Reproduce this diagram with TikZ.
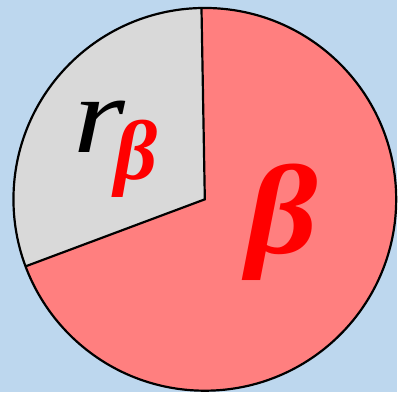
\documentclass[tikz,border=0pt]{standalone}
\usepackage{fontspec}
\setmainfont{Liberation Serif}
\definecolor{skyback}{HTML}{BDD7EE}
\definecolor{slicepink}{HTML}{FF7F7F}
\definecolor{slicegray}{HTML}{D9D9D9}
\begin{document}
\begin{tikzpicture}[x=1bp, y=1bp, line width=2.2bp]
  % light blue backdrop, pie of radius 192 round (O)
  \fill[skyback] (0,0) rectangle (398,393);
  \coordinate (O) at (205.5,193);
  \fill[slicepink] (O) -- ++(91:192) arc[start angle=91, end angle=-159.5, radius=192] -- cycle;
  \fill[slicegray] (O) -- ++(91:192) arc[start angle=91, end angle=200.5, radius=192] -- cycle;
  \draw (O) ++(91:192) coordinate (top) -- (O) -- ++(200.5:192) coordinate (low);
  \draw (O) circle[radius=192];

  \node[anchor=base west, inner sep=0pt, xscale=1.22] (rlab) at (72,240) {\fontsize{110}{110}\selectfont\itshape r};
  \node[anchor=base west, inner sep=0pt, text=red] (rsub) at (114,213) {\fontsize{85}{85}\selectfont\bfseries\itshape β};
  \node[anchor=base west, inner sep=0pt, text=red, xscale=1.1] (beta) at (246,139) {\fontsize{128}{128}\selectfont\bfseries\itshape β};
\end{tikzpicture}
\end{document}
